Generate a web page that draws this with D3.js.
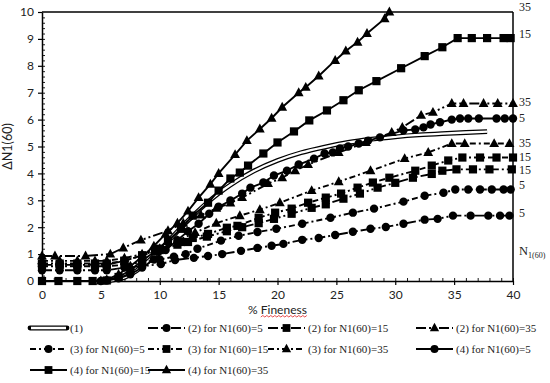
<!DOCTYPE html>
<html><head><meta charset="utf-8">
<script src="https://cdn.jsdelivr.net/npm/d3@7"></script>
<style>body{margin:0;background:#fff}svg{display:block}</style>
</head><body><svg id="c" width="550" height="383"></svg>
<script>
// ---- data ----
const xTicks = [0,5,10,15,20,25,30,35,40];
const yTicks = [0,1,2,3,4,5,6,7,8,9,10];
const rightLabels = ["35","15","35","5","35","15","15","5","5"];
const rightLabelY = [10.2, 9.2, 6.65, 6.05, 5.12, 4.62, 4.12, 3.57, 2.53];

const x1 = [5,6,7,8,9,10,11,12,13,14,15,16,18,20,22,24,26,28,30,32,34,36,37.8];
const y1 = [0,0.03,0.13,0.37,0.72,1.15,1.61,2.07,2.5,2.9,3.26,3.57,4.09,4.48,4.77,4.98,5.15,5.27,5.36,5.43,5.48,5.52,5.55];

const x2_5 = [0,1.5,3,4.5,5.5,7,8.5,10.1,11.3,12.9,14.1,15.3,16.9,18.3,19.5,20.5,22.1,23.5,24.9,26.4,27.9,29.2,30.7,32.5,33.6,34.9,36.4,37.9,38.9,39.7];
const y2_5 = [0.4,0.4,0.4,0.4,0.4,0.5,0.55,0.63,0.78,0.86,0.93,1.0,1.12,1.23,1.31,1.38,1.53,1.6,1.71,1.83,1.94,2.01,2.13,2.28,2.31,2.43,2.43,2.43,2.43,2.43];
const x2_15 = [0,1.5,3,4.5,5.5,7,8.5,10,11.5,12.4,14,15.7,17,18.4,19.7,21.2,22.9,24.1,25.6,27,28.5,30,31.5,33.1,34,35.2,36.6,38,39.9];
const y2_15 = [0.6,0.6,0.6,0.6,0.6,0.75,0.95,1.15,1.35,1.45,1.65,1.85,2.0,2.15,2.31,2.5,2.72,2.85,3.06,3.25,3.47,3.65,3.84,3.98,4.1,4.15,4.15,4.15,4.15];
const x2_35 = [0,1.1,3.7,5.8,6.9,8.4,10.7,12,13.5,14.8,16,17,19.2,20.4,21.5,22.6,25.2,27.5,29.7,30.6,32.2,33.2,34.8,35.8,37.5,38.7,40];
const y2_35 = [0.93,0.93,0.93,1.0,1.23,1.52,1.87,2.15,2.45,2.7,2.9,3.1,3.62,3.84,4.1,4.33,4.78,5.15,5.52,5.71,6.16,6.27,6.6,6.6,6.6,6.6,6.6];

const x3_5 = [0,1.5,3,4.5,5.5,7,8.5,10,11.2,12.2,13.2,15.2,16.7,18.3,19.9,22.1,24.5,26.4,28.2,30.7,32.5,34.1,35.1,36.2,37.2,38.2,39.2,39.8];
const y3_5 = [0.55,0.55,0.55,0.55,0.55,0.6,0.7,0.8,0.9,1.0,1.2,1.5,1.68,1.82,1.94,2.13,2.35,2.54,2.69,2.95,3.17,3.28,3.4,3.4,3.4,3.4,3.4,3.4];
const x3_15 = [0,1.5,3,4.5,5.5,7,8.5,10,11.8,12.8,14.1,15.7,16.6,18.4,19.8,21.2,22.6,24.1,25.4,26.8,28.1,29.5,31.7,33.1,34.5,35.7,37.2,38.6,40];
const y3_15 = [0.65,0.65,0.65,0.65,0.65,0.75,0.95,1.2,1.45,1.6,1.75,1.98,2.05,2.35,2.54,2.69,2.91,3.1,3.25,3.47,3.66,3.84,4.1,4.29,4.48,4.59,4.59,4.59,4.59];
const x3_35 = [0,1.5,3,4.5,5.5,7,8.5,10,11.5,13,14.8,16.8,18.5,20.2,22.9,25.2,27.9,30.8,32.8,34.8,35.9,38.4,39.7];
const y3_35 = [0.75,0.75,0.75,0.75,0.75,0.85,1.0,1.2,1.5,1.8,2.15,2.43,2.65,2.91,3.36,3.69,4.1,4.55,4.78,5.11,5.11,5.11,5.11];

const x4_5 = [5,5.5,6.5,7.5,8.5,9.5,10.5,11.5,12.4,13.3,14.2,15,16,17,17.7,18.8,19.7,20.8,21.8,23.1,24,24.7,25.3,26,26.9,27.7,28.7,30.7,31.7,32.4,33,33.8,34.8,35.5,36.2,37.1,38.6,39.3,40];
const y4_5 = [0,0.02,0.1,0.25,0.5,0.8,1.15,1.52,1.85,2.13,2.5,2.76,2.99,3.25,3.47,3.66,3.92,4.1,4.33,4.55,4.74,4.78,4.93,5.0,5.11,5.22,5.34,5.6,5.63,5.71,5.82,5.9,6.0,6.04,6.04,6.04,6.04,6.04,6.04];
const x4_15 = [0,1.4,3,4.3,5.5,6.5,7.5,8.5,9.6,10.7,11.8,12.8,14.1,15,16,16.8,17.5,18.8,20,21.4,22.7,24.2,25.6,26.9,28.4,30.5,32.5,34,35.3,36.5,37.8,39.2,39.8];
const y4_15 = [0,0,0,0,0.02,0.15,0.4,0.75,1.1,1.49,1.94,2.43,2.91,3.36,3.81,4.03,4.29,4.74,5.15,5.56,5.97,6.34,6.72,7.09,7.43,7.91,8.36,8.69,9.03,9.03,9.03,9.03,9.03];
const x4_35 = [5,5.5,6.5,7.5,8.5,9.5,10.5,11.5,12.4,13.3,14.3,15,16.4,17.4,18.5,19.5,20.4,21.8,22.4,23.5,24.9,25.8,26.8,27.6,29.1,29.5];
const y4_35 = [0,0.05,0.25,0.55,0.9,1.3,1.75,2.15,2.6,3.1,3.6,4.0,4.7,5.22,5.65,6.05,6.46,7.0,7.2,7.62,8.2,8.55,8.88,9.2,9.75,10.0];

const seriesNames = ["(1)","(2) for N1(60)=5","(2) for N1(60)=15","(2) for N1(60)=35",
  "(3) for N1(60)=5","(3) for N1(60)=15","(3) for N1(60)=35",
  "(4) for N1(60)=5","(4) for N1(60)=15","(4) for N1(60)=35"];
const seriesX = [x1,x2_5,x2_15,x2_35,x3_5,x3_15,x3_35,x4_5,x4_15,x4_35];
const seriesY = [y1,y2_5,y2_15,y2_35,y3_5,y3_15,y3_35,y4_5,y4_15,y4_35];
const markers = [null,"circle","square","triangle","circle","square","triangle","circle","square","triangle"];
const dashes = ["double","10,3,2,3,2,3","10,3,2,3,2,3","10,3,2,3,2,3","6,3,2,3","6,3,2,3","6,3,2,3",null,null,null];

// ---- drawing ----
const svg = d3.select("#c");
const L=42, R=513, T=12, B=281;
const x = d3.scaleLinear([0,40],[L,R]);
const y = d3.scaleLinear([0,10],[B,T]);
const tickFont = "Lato, 'Open Sans', sans-serif";
const serif = "'Liberation Serif', 'Times New Roman', serif";

svg.append("line").attr("x1",L).attr("x2",R).attr("y1",T).attr("y2",T).attr("stroke","#000").attr("stroke-width",1.5);
svg.append("line").attr("x1",R).attr("x2",R).attr("y1",T).attr("y2",B).attr("stroke","#000").attr("stroke-width",1.5);

const gy = svg.append("g").attr("transform",`translate(${L},0)`)
  .call(d3.axisLeft(y).tickValues(yTicks).tickSize(4).tickSizeOuter(0).tickFormat(d3.format("d")));
gy.select(".domain").attr("stroke-width",1.5);
gy.selectAll("text").attr("font-family",tickFont).attr("font-size",12).attr("fill","#222").attr("dx",-1);
gy.selectAll(".tick line").attr("stroke-width",1.2);
const gym = svg.append("g").attr("transform",`translate(${L},0)`)
  .call(d3.axisRight(y).tickValues(d3.range(0,50).map(i=>i*0.2)).tickSize(3).tickFormat(""));
gym.select(".domain").remove();
gym.selectAll(".tick line").attr("stroke-width",0.9);

const gx = svg.append("g").attr("transform",`translate(0,${B})`)
  .call(d3.axisBottom(x).tickValues(xTicks).tickSize(4).tickSizeOuter(0).tickFormat(d3.format("d")));
gx.select(".domain").attr("stroke-width",1.5);
gx.selectAll("text").attr("font-family",tickFont).attr("font-size",12).attr("fill","#222").attr("dy","0.9em");
gx.selectAll(".tick line").attr("stroke-width",1.2);
const gxm = svg.append("g").attr("transform",`translate(0,${B})`)
  .call(d3.axisTop(x).tickValues(d3.range(0,41)).tickSize(3).tickFormat(""));
gxm.select(".domain").remove();
gxm.selectAll(".tick line").attr("stroke-width",0.9);

svg.append("text").attr("transform",`translate(12,${(T+B)/2}) rotate(-90)`)
  .attr("text-anchor","middle").attr("font-family",tickFont).attr("font-size",12.5).attr("fill","#222").text("ΔN1(60)");
const xt = svg.append("text").attr("x",(L+R)/2).attr("y",314).attr("text-anchor","middle")
  .attr("font-family",tickFont).attr("font-size",12).attr("fill","#222").text("% Fineness");
{
  const node = xt.node();
  const tot = node.getComputedTextLength();
  const pre = node.getSubStringLength(0,2);
  const x0 = (L+R)/2 - tot/2 + pre, x1e = (L+R)/2 + tot/2;
  let p = `M${x0},317`; let up=true;
  for(let xx=x0+2; xx<=x1e; xx+=2){ p += `L${xx},${up?315.5:317}`; up=!up; }
  svg.append("path").attr("d",p).attr("fill","none").attr("stroke","#e02020").attr("stroke-width",0.8);
}

function marker(g, type, cx, cy, s=1){
  if(type==="circle") g.append("circle").attr("cx",cx).attr("cy",cy).attr("r",4.2*s).attr("fill","#000");
  else if(type==="square") g.append("rect").attr("x",cx-4.1*s).attr("y",cy-4.1*s).attr("width",8.2*s).attr("height",8.2*s).attr("fill","#000");
  else if(type==="triangle") g.append("path").attr("d",`M${cx},${cy-5.4*s}L${cx+4.9*s},${cy+3.5*s}L${cx-4.9*s},${cy+3.5*s}Z`).attr("fill","#000");
}
const line = d3.line().x(d=>x(d[0])).y(d=>y(d[1]));
const plot = svg.append("g");
seriesNames.forEach((name,i)=>{
  const pts = seriesX[i].map((v,j)=>[v, seriesY[i][j]]);
  const g = plot.append("g");
  if(dashes[i]==="double"){
    const c = d3.line().curve(d3.curveMonotoneX).x(d=>x(d[0])).y(d=>y(d[1]));
    g.append("path").attr("d",c(pts)).attr("fill","none").attr("stroke","#000").attr("stroke-width",4.8);
    g.append("path").attr("d",c(pts)).attr("fill","none").attr("stroke","#fff").attr("stroke-width",2.3);
  } else {
    g.append("path").attr("d",line(pts)).attr("fill","none").attr("stroke","#000").attr("stroke-width",1.9)
      .attr("stroke-dasharray",dashes[i]);
    pts.forEach(p=>marker(g, markers[i], x(p[0]), y(p[1])));
  }
});

rightLabels.forEach((t,i)=>{
  svg.append("text").attr("x",519).attr("y",y(rightLabelY[i])).attr("dy","0.35em")
    .attr("font-family",serif).attr("font-size",12).attr("fill","#222").text(t);
});
const nl = svg.append("text").attr("x",519).attr("y",255).attr("font-family",serif).attr("font-size",12.5).attr("fill","#222");
nl.append("tspan").text("N");
nl.append("tspan").attr("font-size",8).attr("dy",3).text("1(60)");

const colX = [30,148,268,416];
const rowY = [328,349,370];
const slots = [[0,0],[1,0],[2,0],[3,0],[0,1],[1,1],[2,1],[3,1],[0,2],[1,2]];
seriesNames.forEach((name,i)=>{
  const [c,r] = slots[i];
  const lx = colX[c], ly = rowY[r], len = 37;
  const g = svg.append("g");
  if(dashes[i]==="double"){
    g.append("line").attr("x1",lx).attr("x2",lx+len).attr("y1",ly).attr("y2",ly).attr("stroke","#000").attr("stroke-width",4.8).attr("stroke-linecap","round");
    g.append("line").attr("x1",lx+1).attr("x2",lx+len-1).attr("y1",ly).attr("y2",ly).attr("stroke","#fff").attr("stroke-width",2.3);
  } else {
    g.append("line").attr("x1",lx).attr("x2",lx+len).attr("y1",ly).attr("y2",ly).attr("stroke","#000").attr("stroke-width",1.9).attr("stroke-dasharray",dashes[i]);
    marker(g, markers[i], lx+len/2, ly, 0.95);
  }
  g.append("text").attr("x",lx+len+3).attr("y",ly).attr("dy","0.35em").attr("font-family",serif).attr("font-size",11).attr("fill","#222").text(name);
});
</script></body></html>
